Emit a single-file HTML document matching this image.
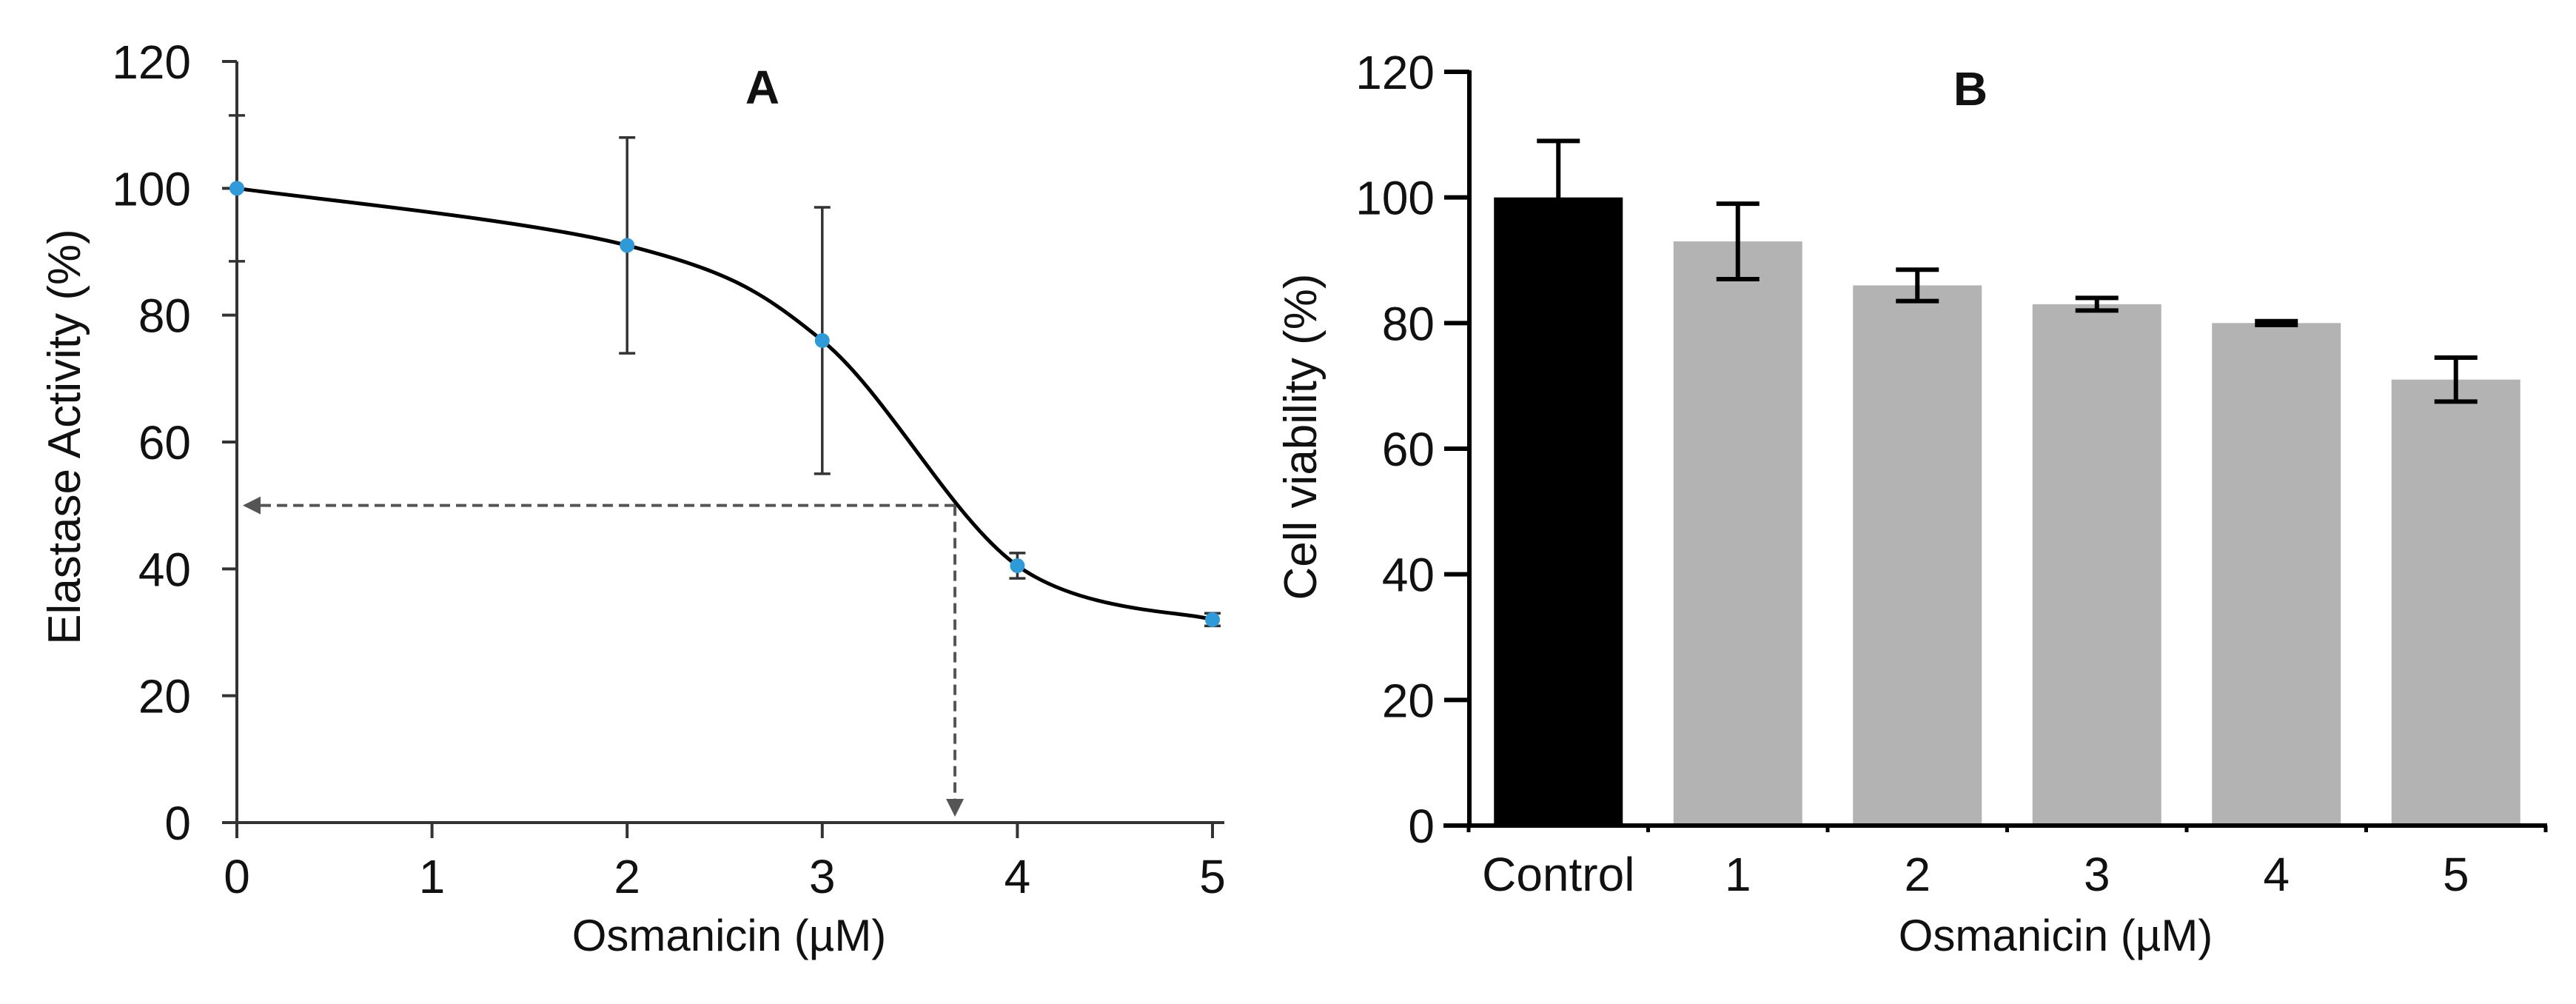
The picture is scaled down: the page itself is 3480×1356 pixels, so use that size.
<!DOCTYPE html>
<html><head><meta charset="utf-8"><style>
body{margin:0;background:#fff}
svg{display:block;font-family:"Liberation Sans",Arial,sans-serif}
</style></head><body>
<svg id="chart" width="3480" height="1356" viewBox="0 0 3480 1356" xmlns="http://www.w3.org/2000/svg">
<defs>
<marker id="arr" markerWidth="6" markerHeight="6" refX="5" refY="3" orient="auto" markerUnits="strokeWidth"><path d="M0,0 L6,3 L0,6 z" fill="#555"/></marker>
</defs>
<g id="panelA"></g>
<g id="panelB"></g>
</svg>
<script>
// Panel A data
const aX = [0, 2, 3, 4, 5];
const aY = [100, 91, 76, 40.5, 32];
const aErr = [11.5, 17, 21, 2, 1];
const aXTicks = [0, 1, 2, 3, 4, 5];
const aYTicks = [0, 20, 40, 60, 80, 100, 120];
const ic50X = 3.68;
const ic50Y = 50;
// Panel B data
const bCats = ["Control", "1", "2", "3", "4", "5"];
const bVals = [100, 93, 86, 83, 80, 71];
const bErr = [9, 6, 2.5, 1, 0.3, 3.5];
const bYTicks = [0, 20, 40, 60, 80, 100, 120];

const NS = "http://www.w3.org/2000/svg";
function mk(parent, tag, attrs, text) {
  const e = document.createElementNS(NS, tag);
  for (const k in attrs) e.setAttribute(k, attrs[k]);
  if (text !== undefined) e.textContent = text;
  parent.appendChild(e);
  return e;
}

// ---------- Panel A ----------
const A = document.getElementById("panelA");
const axX = v => 320 + v * 263.6;
const axY = v => 1111 - v * (1028 / 120);
let e;
e = mk(A, "line", {x1: 320, y1: axY(120), x2: 320, y2: 1111, stroke: "#333", "stroke-width": 4});


e = mk(A, "line", {x1: 300, y1: 1111, x2: 1654, y2: 1111, stroke: "#333", "stroke-width": 4});


aYTicks.forEach(t => {
  const y = axY(t);
  e = mk(A, "line", {x1: 300, y1: y, x2: 320, y2: y, stroke: "#333", "stroke-width": 4});
  
  
  e = mk(A, "text", {x: 258, y: y + 23, "text-anchor": "end", "font-size": 64, fill: "#111"}, String(t));
  
  
});
aXTicks.forEach(t => {
  const x = axX(t);
  e = mk(A, "line", {x1: x, y1: 1111, x2: x, y2: 1132, stroke: "#333", "stroke-width": 4});
  
  
  e = mk(A, "text", {x: x, y: 1206, "text-anchor": "middle", "font-size": 64, fill: "#111"}, String(t));
  
  
});
e = mk(A, "text", {x: 985, y: 1284, "text-anchor": "middle", "font-size": 60, fill: "#111"}, "Osmanicin (µM)");


e = mk(A, "text", {x: 0, y: 0, transform: "translate(108,590) rotate(-90)", "text-anchor": "middle", "font-size": 62, fill: "#111"}, "Elastase Activity (%)");


e = mk(A, "text", {x: 1030, y: 140, "text-anchor": "middle", "font-size": 64, "font-weight": "bold", fill: "#111"}, "A");


// dashed IC50 guides
e = mk(A, "line", {x1: axX(ic50X), y1: axY(ic50Y), x2: 332, y2: axY(ic50Y), stroke: "#555", "stroke-width": 4, "stroke-dasharray": "14 8", "marker-end": "url(#arr)"});


e = mk(A, "line", {x1: axX(ic50X), y1: axY(ic50Y), x2: axX(ic50X), y2: 1099, stroke: "#555", "stroke-width": 4, "stroke-dasharray": "14 8", "marker-end": "url(#arr)"});


// error bars
aX.forEach((xv, i) => {
  const x = axX(xv), y1 = axY(aY[i] + aErr[i]), y2 = axY(aY[i] - aErr[i]);
  e = mk(A, "path", {d: `M${x},${y1}V${y2}M${x-11},${y1}H${x+11}M${x-11},${y2}H${x+11}`, stroke: "#333", "stroke-width": 3.5, fill: "none"});
  
  
});
// curve (Catmull-Rom)
const pts = aX.map((xv, i) => [axX(xv), axY(aY[i])]);
let d = `M${pts[0][0]},${pts[0][1]}`;
for (let i = 0; i < pts.length - 1; i++) {
  const p0 = pts[Math.max(0, i - 1)], p1 = pts[i], p2 = pts[i + 1], p3 = pts[Math.min(pts.length - 1, i + 2)];
  const c1 = [p1[0] + (p2[0] - p0[0]) / 6, p1[1] + (p2[1] - p0[1]) / 6];
  const c2 = [p2[0] - (p3[0] - p1[0]) / 6, p2[1] - (p3[1] - p1[1]) / 6];
  d += ` C${c1[0]},${c1[1]} ${c2[0]},${c2[1]} ${p2[0]},${p2[1]}`;
}
e = mk(A, "path", {d: d, stroke: "#000", "stroke-width": 5, fill: "none"});


pts.forEach(p => {
  e = mk(A, "circle", {cx: p[0], cy: p[1], r: 10, fill: "#2e9ad8"});
  
  
});

// ---------- Panel B ----------
const B = document.getElementById("panelB");
const bx0 = 1984, bStep = 242.5, bw = 174;
const bxC = i => bx0 + bStep * (i + 0.5);
const byY = v => 1115 - v * (1018 / 120);
bVals.forEach((v, i) => {
  const c = bxC(i);
  e = mk(B, "rect", {x: c - bw / 2, y: byY(v), width: bw, height: 1115 - byY(v), fill: i === 0 ? "#000" : "#b3b3b3"});
  
  
  const y1 = byY(v + bErr[i]), y2 = byY(v - bErr[i]);
  e = mk(B, "path", {d: `M${c},${y1}V${y2}M${c-29},${y1}H${c+29}M${c-29},${y2}H${c+29}`, stroke: "#000", "stroke-width": 6, fill: "none"});
  
  
  e = mk(B, "text", {x: c, y: 1203, "text-anchor": "middle", "font-size": 64, fill: "#111"}, bCats[i]);
  
  
});
e = mk(B, "line", {x1: 1985, y1: byY(120) - 2, x2: 1985, y2: 1118, stroke: "#000", "stroke-width": 6});


e = mk(B, "line", {x1: 1950, y1: 1115, x2: 3441, y2: 1115, stroke: "#000", "stroke-width": 6});


for (let i = 0; i <= bCats.length; i++) {
  const x = bx0 + bStep * i;
  e = mk(B, "line", {x1: x, y1: 1115, x2: x, y2: 1124, stroke: "#000", "stroke-width": 5});
  
  
}
bYTicks.forEach(t => {
  const y = byY(t);
  e = mk(B, "line", {x1: 1951, y1: y, x2: 1985, y2: y, stroke: "#000", "stroke-width": 6});
  
  
  e = mk(B, "text", {x: 1938, y: y + 23, "text-anchor": "end", "font-size": 64, fill: "#111"}, String(t));
  
  
});
e = mk(B, "text", {x: 2777, y: 1284, "text-anchor": "middle", "font-size": 60, fill: "#111"}, "Osmanicin (µM)");


e = mk(B, "text", {x: 0, y: 0, transform: "translate(1778,590) rotate(-90)", "text-anchor": "middle", "font-size": 62, fill: "#111"}, "Cell viability (%)");


e = mk(B, "text", {x: 2662, y: 142, "text-anchor": "middle", "font-size": 64, "font-weight": "bold", fill: "#111"}, "B");


</script>
</body></html>
